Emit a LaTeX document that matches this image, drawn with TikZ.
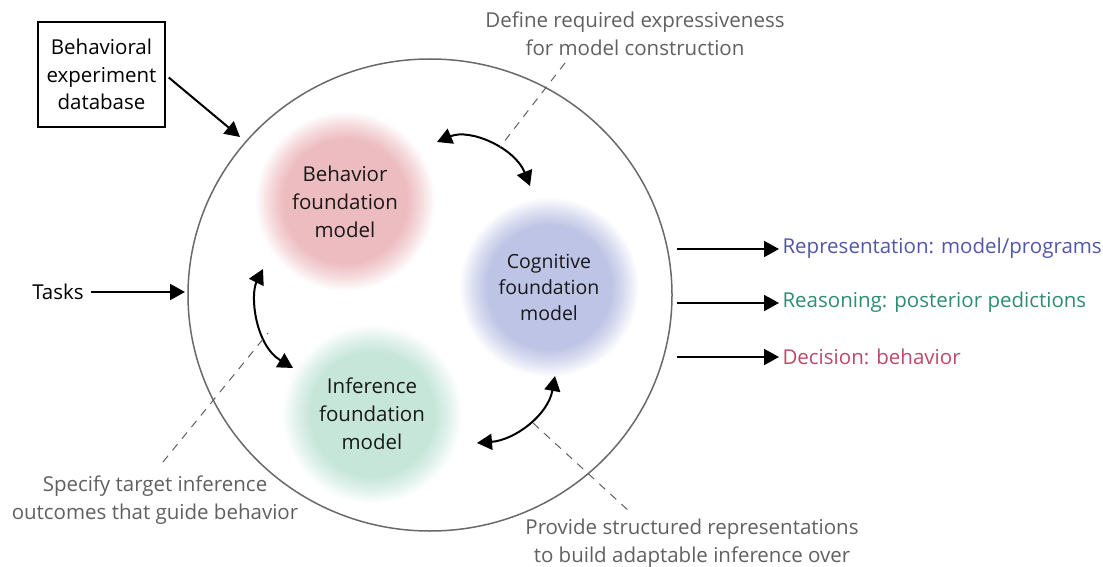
\documentclass[tikz,border=0pt]{standalone}
\usepackage{fontspec}
\setmainfont{Open Sans}
\usetikzlibrary{arrows.meta}
\definecolor{blobred}{RGB}{237,188,192}
\definecolor{blobblue}{RGB}{190,196,229}
\definecolor{blobgreen}{RGB}{198,230,218}
\definecolor{repblue}{RGB}{82,86,170}
\definecolor{reagreen}{RGB}{46,140,112}
\definecolor{decred}{RGB}{190,72,104}
\definecolor{notegray}{RGB}{96,96,96}
\definecolor{ringgray}{RGB}{105,105,105}
\pgfdeclareradialshading{shR}{\pgfpointorigin}{color(0bp)=(blobred); color(15.5bp)=(blobred); color(19bp)=(blobred!55!white); color(22.5bp)=(white); color(50bp)=(white)}
\pgfdeclareradialshading{shB}{\pgfpointorigin}{color(0bp)=(blobblue); color(15.5bp)=(blobblue); color(19bp)=(blobblue!55!white); color(22.5bp)=(white); color(50bp)=(white)}
\pgfdeclareradialshading{shG}{\pgfpointorigin}{color(0bp)=(blobgreen); color(15.5bp)=(blobgreen); color(19bp)=(blobgreen!55!white); color(22.5bp)=(white); color(50bp)=(white)}
\tikzset{
  tip/.style={-{Triangle[length=15pt,width=16pt]}, line width=2pt},
  dtip/.style={{Triangle[length=15pt,width=16pt]}-{Triangle[length=15pt,width=16pt]}, line width=2pt},
  note/.style={text=notegray, align=center, font=\fontsize{20.5}{28}\selectfont},
  blobtext/.style={align=center, font=\fontsize{20.5}{28}\selectfont, text=black!90},
  outtext/.style={anchor=west, font=\fontsize{20.5}{24}\selectfont},
  lead/.style={dashed, dash pattern=on 8pt off 7pt, draw=notegray, line width=1pt}
}
\begin{document}
\begin{tikzpicture}[x=1pt,y=-1pt]
\useasboundingbox (0,0) rectangle (1103,567);
% blobs
\shade[shading=shR] (345,201) circle (100);
\shade[shading=shB] (549,287) circle (100);
\shade[shading=shG] (372,414) circle (100);
% ring
\coordinate (ringc) at (430,295);
\draw[draw=ringgray, line width=1.5pt] (ringc) ellipse [x radius=242, y radius=236];
% blob labels
\node[blobtext] (beh) at (345,202) {Behavior\\foundation\\model};
\node[blobtext, font=\fontsize{19.5}{26}\selectfont] (cog) at (549,287) {Cognitive\\foundation\\model};
\node[blobtext] (inf) at (372,414) {Inference\\foundation\\model};
% database box
\node[draw, line width=1.5pt, align=center, font=\fontsize{20.5}{27.5}\selectfont, minimum width=127pt, minimum height=105pt, inner sep=2pt] (db) at (101.5,74.5) {Behavioral\\experiment\\database};
\coordinate (dbin) at (240,137);
\draw[tip] (db.east) ++(3,3) coordinate (dbout) -- (dbin);
% tasks
\node[font=\fontsize{20.5}{24}\selectfont] (tasks) at (58,292) {Tasks};
\coordinate (tasksin) at (185,292);
\draw[tip] (tasks.east) ++(4,0) -- (tasksin);
% outputs
\node[outtext, text=repblue] (rep) at (779,248) {Representation: model/programs};
\node[outtext, text=reagreen] (rea) at (779,302) {Reasoning: posterior pedictions};
\node[outtext, text=decred] (dec) at (779,357) {Decision: behavior};
\coordinate (o1) at (677,249); \coordinate (o2) at (677,303); \coordinate (o3) at (677,357);
\draw[tip] (o1) -- (rep.west |- o1);
\draw[tip] (o2) -- (rea.west |- o2);
\draw[tip] (o3) -- (dec.west |- o3);
% double arrows
\coordinate (a1) at (437,142); \coordinate (a2) at (530,186);
\draw[dtip] (a1) .. controls (470,128) and (515,148) .. (a2);
\coordinate (b1) at (263,269); \coordinate (b2) at (293,368);
\draw[dtip] (b1) .. controls (250,295) and (255,345) .. (b2);
\coordinate (c1) at (555,376); \coordinate (c2) at (477,443);
\draw[dtip] (c1) .. controls (548,415) and (515,440) .. (c2);
% notes
\node[note] (n1) at (635,34) {Define required expressiveness\\for model construction};
\node[note] (n2) at (155,500) {Specify target inference\\outcomes that guide behavior};
\node[note] (n3) at (692,543) {Provide structured representations\\to build adaptable inference over};
\coordinate (l1a) at (565,63); \coordinate (l1b) at (500,147);
\draw[lead] (l1a) -- (l1b);
\coordinate (l2a) at (163,462); \coordinate (l2b) at (268,333);
\draw[lead] (l2a) -- (l2b);
\coordinate (l3a) at (533,423); \coordinate (l3b) at (630,512);
\draw[lead] (l3a) -- (l3b);
\end{tikzpicture}
\end{document}
